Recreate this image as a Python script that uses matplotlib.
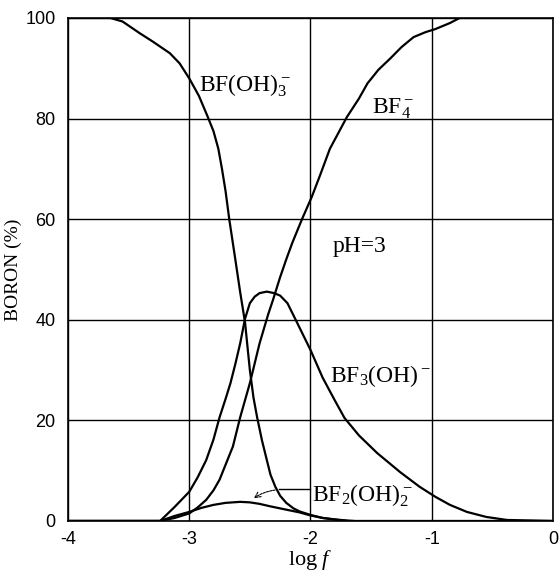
import matplotlib
matplotlib.use('Agg')
import matplotlib.pyplot as plt

plt.rcParams['axes.unicode_minus'] = False
plt.rcParams['mathtext.fontset'] = 'custom'
plt.rcParams['mathtext.rm'] = 'Liberation Serif'
plt.rcParams['mathtext.it'] = 'Liberation Serif:italic'

# values (log f, boron %)
x_bfoh3 = [-4, -3.65, -3.55, -3.41, -3.3, -3.16, -3.08, -3.0, -2.92, -2.85, -2.8, -2.76,
           -2.73, -2.7, -2.67, -2.62, -2.58, -2.54, -2.5, -2.47, -2.44, -2.4, -2.36, -2.33,
           -2.29, -2.25, -2.2, -2.14, -2.09, -2.0, -1.9, -1.8, -1.7]
y_bfoh3 = [100, 100, 99.3, 97, 95.3, 93, 91, 88, 84.5, 80.5, 77.5, 74,
           70, 65.5, 60, 52, 45.5, 39.5, 30, 24.5, 20.6, 16, 12.1, 9.2,
           6.8, 5.0, 3.6, 2.5, 1.9, 1.2, 0.6, 0.3, 0]

x_bf3oh = [-4, -3.24, -3.12, -3.0, -2.93, -2.86, -2.8, -2.75, -2.7, -2.66, -2.62, -2.58,
           -2.54, -2.5, -2.46, -2.42, -2.36, -2.3, -2.25, -2.19, -2.11, -2.0, -1.9,
           -1.8, -1.72, -1.6, -1.45, -1.35, -1.26, -1.1, -0.97, -0.85, -0.71, -0.55,
           -0.38, 0]
y_bf3oh = [0, 0, 2.8, 5.8, 8.7, 12.1, 16.2, 20.6, 24.3, 27.4, 31.2, 35.3,
           40.2, 43.3, 44.6, 45.3, 45.6, 45.3, 44.8, 43.3, 39.4, 34, 28.5,
           24, 20.5, 17, 13.5, 11.5, 9.7, 6.8, 4.8, 3.2, 1.8, 0.8,
           0.2, 0]

x_bf4 = [-4, -3.24, -3.12, -3.0, -2.93, -2.86, -2.8, -2.75, -2.7, -2.64, -2.58, -2.54,
         -2.5, -2.42, -2.35, -2.31, -2.25, -2.2, -2.15, -2.07, -1.99, -1.92, -1.84,
         -1.7, -1.6, -1.53, -1.44, -1.34, -1.25, -1.15, -1.05, -0.97, -0.9, -0.85,
         -0.77, 0]
y_bf4 = [0, 0, 0.6, 1.5, 2.7, 4.2, 6.1, 8.2, 11.2, 14.8, 20.6, 24,
         27.4, 35.3, 41, 43.9, 48.5, 52, 55.3, 60, 64.4, 68.8, 74,
         80.3, 84, 87, 89.7, 92, 94.2, 96.2, 97.2, 97.8, 98.5, 99,
         100, 100]

x_bf2oh2 = [-4, -3.24, -3.12, -3.0, -2.9, -2.8, -2.7, -2.58, -2.5, -2.42, -2.33, -2.25,
            -2.17, -2.09, -2.0, -1.9, -1.8, -1.7, -1.63, 0]
y_bf2oh2 = [0, 0, 1.0, 1.8, 2.6, 3.2, 3.6, 3.8, 3.7, 3.4, 2.9, 2.5,
            2.1, 1.7, 1.1, 0.6, 0.3, 0.1, 0, 0]

fig = plt.figure(figsize=(5.6, 5.73), dpi=100)
ax = fig.add_axes([0.1214, 0.0908, 0.8661, 0.8778])

for xs, ys in [(x_bfoh3, y_bfoh3), (x_bf3oh, y_bf3oh), (x_bf4, y_bf4), (x_bf2oh2, y_bf2oh2)]:
    ax.plot(xs, ys, color='black', lw=1.6, zorder=3)

ax.set_xlim(-4, 0)
ax.set_ylim(0, 100)
ax.set_xticks([-4, -3, -2, -1, 0])
ax.set_yticks([0, 20, 40, 60, 80, 100])
ax.grid(True, color='black', lw=1.0)
for s in ax.spines.values():
    s.set_linewidth(1.2)
ax.tick_params(axis='x', length=0, pad=7, labelsize=13)
ax.tick_params(axis='y', length=0, pad=9, labelsize=13)
for lab in ax.get_xticklabels() + ax.get_yticklabels():
    lab.set_fontfamily('Liberation Sans')

ax.set_ylabel('BORON (%)', family='Liberation Serif', fontsize=14, labelpad=2)
ax.set_xlabel('log $f$', family='Liberation Serif', fontsize=16, labelpad=0)

tkw = dict(family='Liberation Serif', fontsize=17, va='baseline', ha='left')
ax.text(-2.92, 85.3, r'BF(OH)$_3^-$', **tkw)
ax.text(-1.49, 81.1, r'BF$_4^-$', **tkw)
ax.text(-1.815, 53.5, 'pH=3', **tkw)
ax.text(-1.84, 27.6, r'BF$_3$(OH)$^-$', **tkw)
ax.text(-1.99, 3.8, r'BF$_2$(OH)$_2^-$', **tkw)

# pointer to the small BF2(OH)2 curve
ax.plot([-2.26, -2.0], [6.4, 6.4], color='black', lw=1.0)
ax.annotate('', xy=(-2.485, 4.2), xytext=(-2.27, 6.2),
            arrowprops=dict(arrowstyle='->', color='black', lw=0.8, ls=(0, (2, 1)),
                            connectionstyle='arc3,rad=0.15'))

fig.savefig('out.png', dpi=100)
